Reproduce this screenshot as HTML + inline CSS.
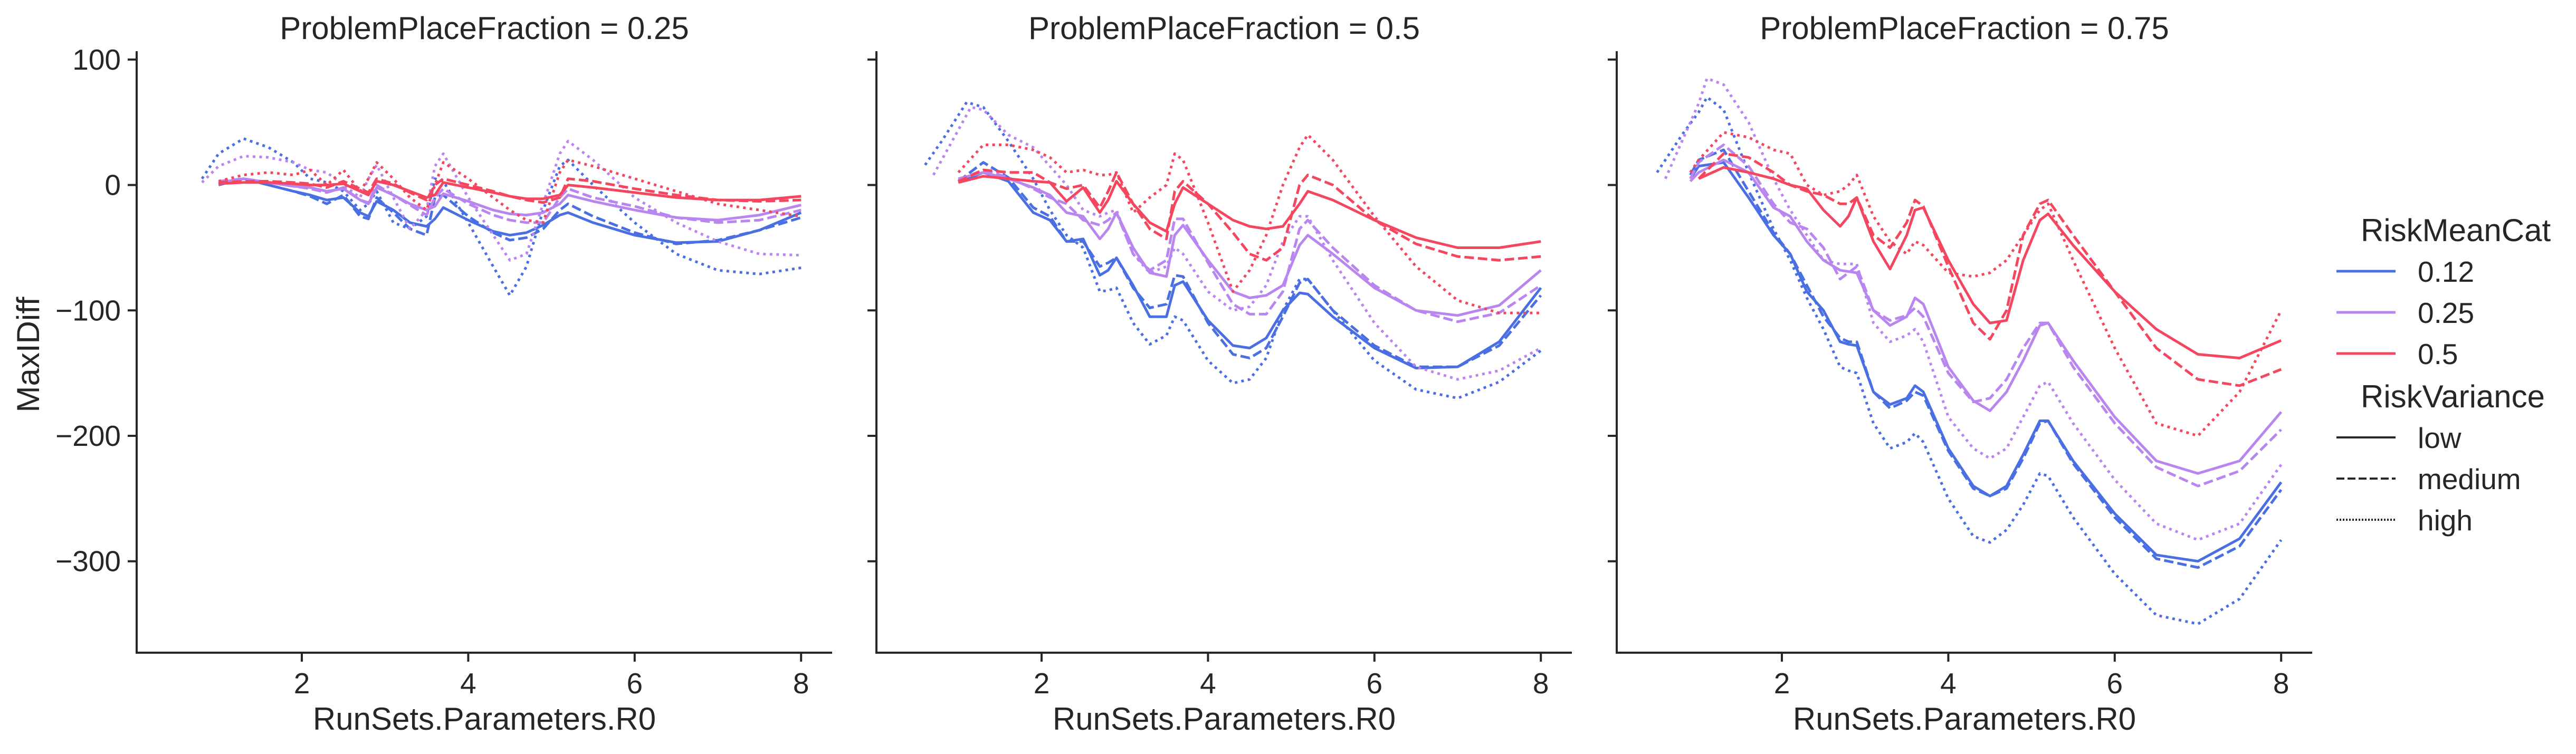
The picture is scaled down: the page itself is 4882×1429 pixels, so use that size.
<!DOCTYPE html>
<html><head><meta charset="utf-8"><style>
body{margin:0;background:#fff;}
svg text{font-family:"Liberation Sans",Arial,sans-serif;fill:#262626;}
</style></head><body>
<svg id="chart" width="4882" height="1424" viewBox="0 0 4882 1424" xmlns="http://www.w3.org/2000/svg">
<g id="root"></g>
</svg>
<script>
const XG = [1.0,1.3,1.6,1.9,2.1,2.3,2.5,2.7,2.8,2.9,3.1,3.3,3.5,3.6,3.7,4.0,4.3,4.5,4.7,4.9,5.1,5.2,5.5,6.0,6.5,7.0,7.5,8.0];
const panelTitles = ["ProblemPlaceFraction = 0.25","ProblemPlaceFraction = 0.5","ProblemPlaceFraction = 0.75"];
const meanCats = ["0.12","0.25","0.5"];
const variances = ["low","medium","high"];
const xTicks = [2,4,6,8];
const yTicks = [100,0,-100,-200,-300];
const yTickLabels = ["100","0","\u2212100","\u2212200","\u2212300"];

// panel 1 (0.25)
const p1_b_low = [0,5,0,-5,-8,-12,-10,-22,-25,-13,-20,-30,-33,-27,-18,-28,-37,-40,-38,-32,-24,-22,-30,-40,-46,-45,-36,-22];
const p1_b_med = [1,5,0,-5,-9,-15,-8,-25,-27,-10,-22,-35,-40,-10,-8,-25,-38,-44,-42,-35,-20,-15,-25,-38,-47,-44,-36,-26];
const p1_b_high_pre_x = [0.8], p1_b_high_pre_y = [5];
const p1_b_high = [25,37,30,18,5,2,-5,-20,-15,-5,-30,-35,-25,5,3,-30,-65,-88,-65,-20,15,20,0,-30,-55,-68,-71,-66];
const p1_p_low = [2,5,2,-1,-2,-5,-3,-12,-15,-2,-8,-15,-20,-17,-7,-13,-20,-23,-24,-22,-15,-8,-13,-20,-26,-28,-24,-16];
const p1_p_med = [3,5,2,-1,-3,-6,-2,-12,-14,0,-8,-16,-24,-10,-3,-15,-24,-28,-30,-30,-10,-3,-10,-17,-26,-30,-28,-20];
const p1_p_high_pre_x = [0.8], p1_p_high_pre_y = [2];
const p1_p_high = [15,23,22,18,12,10,0,-10,5,16,-10,-35,-20,15,25,-10,-40,-60,-55,-15,25,35,20,-10,-30,-45,-55,-56];
const p1_r_low = [1,2,2,1,0,0,1,-5,-8,3,0,-5,-10,-8,2,-2,-6,-9,-11,-11,-8,0,-2,-6,-10,-12,-12,-9];
const p1_r_med = [2,3,3,2,1,-2,3,-3,-6,5,1,-6,-12,0,5,0,-5,-9,-12,-14,-10,5,3,-3,-8,-12,-13,-12];
const p1_r_high = [3,8,10,8,12,0,12,-5,5,18,5,-10,-20,0,18,5,-10,-20,-28,-30,10,20,15,5,-5,-15,-20,-25];

// panel 2 (0.5)
const p2_b_low = [2,10,3,-22,-28,-45,-43,-72,-68,-58,-80,-105,-105,-80,-77,-108,-128,-130,-122,-100,-86,-87,-105,-130,-146,-145,-125,-82];
const p2_b_med = [3,18,6,-18,-25,-45,-45,-65,-62,-58,-82,-98,-95,-72,-73,-110,-135,-138,-130,-105,-78,-75,-100,-128,-145,-145,-128,-88];
const p2_b_high_pre_x = [0.6,0.8,1.1], p2_b_high_pre_y = [16,35,66];
const p2_b_high = [null,62,35,5,-20,-40,-50,-85,-84,-82,-110,-127,-120,-105,-108,-140,-158,-155,-138,-100,-75,-75,-100,-140,-163,-170,-157,-132];
const p2_p_low = [5,10,5,-2,-8,-22,-25,-43,-35,-22,-50,-70,-73,-40,-32,-60,-85,-90,-88,-80,-48,-40,-55,-82,-100,-104,-96,-68];
const p2_p_med = [4,12,6,-3,-10,-15,-28,-32,-28,-22,-55,-68,-60,-27,-27,-62,-95,-103,-103,-85,-35,-28,-50,-80,-100,-109,-102,-80];
const p2_p_high_pre_x = [0.7,1.15], p2_p_high_pre_y = [8,62];
const p2_p_high = [null,60,40,30,15,0,-20,-25,-22,-20,-55,-70,-65,-50,-55,-85,-100,-97,-80,-45,-25,-25,-60,-110,-145,-155,-148,-130];
const p2_r_low = [2,7,5,3,2,-13,-2,-22,-12,3,-15,-30,-37,-15,-2,-15,-28,-33,-35,-33,-15,-5,-12,-28,-42,-50,-50,-45];
const p2_r_med = [3,12,10,10,2,-3,0,-18,-5,10,-15,-35,-43,-5,3,-15,-38,-55,-60,-50,0,8,0,-28,-47,-57,-60,-57];
const p2_r_high = [10,32,32,28,22,10,12,8,8,10,-22,-10,0,25,20,-30,-85,-68,-40,0,30,40,20,-25,-65,-92,-102,-102];

// panel 3 (0.75)
const p3_b_low_pre_x = [0.9], p3_b_low_pre_y = [5];
const p3_b_low = [15,18,-10,-40,-55,-85,-100,-125,-127,-128,-165,-175,-170,-160,-165,-210,-240,-248,-240,-215,-188,-188,-220,-262,-295,-300,-282,-237];
const p3_b_med_pre_x = [0.9], p3_b_med_pre_y = [8];
const p3_b_med = [20,28,-5,-38,-55,-80,-105,-122,-125,-125,-165,-178,-172,-165,-168,-212,-242,-248,-242,-218,-190,-188,-222,-265,-298,-305,-288,-243];
const p3_b_high_pre_x = [0.5,0.8,1.1], p3_b_high_pre_y = [10,40,70];
const p3_b_high = [58,60,10,-35,-60,-90,-115,-145,-148,-150,-190,-210,-205,-198,-205,-250,-280,-285,-275,-255,-230,-232,-265,-310,-343,-350,-330,-283];
const p3_p_low_pre_x = [0.9], p3_p_low_pre_y = [3];
const p3_p_low = [10,20,10,-18,-25,-45,-60,-68,-69,-70,-100,-112,-105,-90,-95,-145,-172,-180,-165,-140,-112,-110,-140,-185,-220,-230,-220,-181];
const p3_p_med_pre_x = [0.9], p3_p_med_pre_y = [5];
const p3_p_med = [18,32,15,-15,-30,-35,-50,-75,-70,-65,-100,-108,-104,-98,-105,-150,-173,-170,-155,-130,-110,-110,-145,-190,-225,-240,-228,-195];
const p3_p_high_pre_x = [0.6,0.8,1.1], p3_p_high_pre_y = [5,35,85];
const p3_p_high = [65,80,50,5,-20,-40,-60,-63,-63,-63,-110,-125,-120,-115,-125,-185,-210,-218,-210,-185,-160,-157,-190,-235,-270,-283,-270,-223];
const p3_r_low = [5,14,10,5,0,-3,-20,-33,-25,-10,-45,-67,-40,-20,-18,-60,-95,-110,-108,-60,-28,-23,-48,-85,-115,-135,-138,-124];
const p3_r_med = [5,25,22,10,0,-5,-8,-15,-15,-10,-40,-50,-30,-12,-17,-65,-110,-123,-100,-40,-15,-12,-40,-85,-130,-155,-160,-147];
const p3_r_high_pre_x = [0.9], p3_r_high_pre_y = [10];
const p3_r_high = [20,42,38,28,25,0,-8,-5,0,8,-25,-45,-55,-45,-48,-70,-73,-70,-60,-40,-20,-15,-60,-130,-190,-200,-165,-100];

const E = [];
const panels = [
 [[p1_b_low,E,E],[p1_b_med,E,E],[p1_b_high,p1_b_high_pre_x,p1_b_high_pre_y],
  [p1_p_low,E,E],[p1_p_med,E,E],[p1_p_high,p1_p_high_pre_x,p1_p_high_pre_y],
  [p1_r_low,E,E],[p1_r_med,E,E],[p1_r_high,E,E]],
 [[p2_b_low,E,E],[p2_b_med,E,E],[p2_b_high,p2_b_high_pre_x,p2_b_high_pre_y],
  [p2_p_low,E,E],[p2_p_med,E,E],[p2_p_high,p2_p_high_pre_x,p2_p_high_pre_y],
  [p2_r_low,E,E],[p2_r_med,E,E],[p2_r_high,E,E]],
 [[p3_b_low,p3_b_low_pre_x,p3_b_low_pre_y],[p3_b_med,p3_b_med_pre_x,p3_b_med_pre_y],[p3_b_high,p3_b_high_pre_x,p3_b_high_pre_y],
  [p3_p_low,p3_p_low_pre_x,p3_p_low_pre_y],[p3_p_med,p3_p_med_pre_x,p3_p_med_pre_y],[p3_p_high,p3_p_high_pre_x,p3_p_high_pre_y],
  [p3_r_low,E,E],[p3_r_med,E,E],[p3_r_high,p3_r_high_pre_x,p3_r_high_pre_y]]
];

const colors = ["#4A6FE3","#B986EF","#F4475F"];
const dashes = ["", "18 7.5", "5 7.5"];
const NS = "http://www.w3.org/2000/svg";
const root = document.getElementById("root");
const panelLeft = [259, 1661, 3064];
const xUnit = 157.7, x2Off = 313, axisW = 1318;
const y0 = 350.6, yUnit = 2.377, yTop = 97, yBot = 1237;
function mk(tag, attrs, parent){const e=document.createElementNS(NS,tag);for(const k in attrs)e.setAttribute(k,attrs[k]);(parent||root).appendChild(e);return e;}
function xs(p,v){return panelLeft[p]+x2Off+(v-2)*xUnit;}
function ys(v){return y0-v*yUnit;}

panels.forEach((series,p)=>{
  const L = panelLeft[p];
  const g = mk("g",{});
  
  
  const t = mk("text",{x:L+axisW/2,y:74,"font-size":60,"text-anchor":"middle"},g);
  t.textContent = panelTitles[p];
  
  
  const ya = mk("line",{x1:L,y1:yTop,x2:L,y2:yBot,stroke:"#262626","stroke-width":4},g);
  
  
  const xa = mk("line",{x1:L-2,y1:yBot,x2:L+axisW,y2:yBot,stroke:"#262626","stroke-width":4},g);
  
  
  yTicks.forEach((v,i)=>{
    mk("line",{x1:L-17,y1:ys(v),x2:L,y2:ys(v),stroke:"#262626","stroke-width":4},g);
    if(p===0){
      const tl = mk("text",{x:L-30,y:ys(v)+19,"font-size":55,"text-anchor":"end"},g);
      tl.textContent = yTickLabels[i];
      
      
    }
  });
  xTicks.forEach(v=>{
    mk("line",{x1:xs(p,v),y1:yBot,x2:xs(p,v),y2:yBot+17,stroke:"#262626","stroke-width":4},g);
    const tl = mk("text",{x:xs(p,v),y:1314,"font-size":55,"text-anchor":"middle"},g);
    tl.textContent = String(v);
    
    
  });
  const xl = mk("text",{x:L+axisW/2,y:1383,"font-size":60,"text-anchor":"middle"},g);
  xl.textContent = "RunSets.Parameters.R0";
  
  
  series.forEach((s,si)=>{
    const [vals,px,py] = s;
    const pts = [];
    px.forEach((x,i)=>pts.push([x,py[i]]));
    XG.forEach((x,i)=>{ if(vals[i]!==null) pts.push([x,vals[i]]); });
    pts.sort((a,b)=>a[0]-b[0]);
    const d = pts.map((q,i)=>(i?"L":"M")+xs(p,q[0]).toFixed(1)+" "+ys(q[1]).toFixed(1)).join(" ");
    const ci = Math.floor(si/3), vi = si%3;
    const path = mk("path",{d:d,fill:"none",stroke:colors[ci],"stroke-width":5,"stroke-linejoin":"round"},g);
    if(dashes[vi]) path.setAttribute("stroke-dasharray",dashes[vi]);
    
    
  });
});
const yl = mk("text",{x:0,y:0,"font-size":60,"text-anchor":"middle",transform:"translate(74,672) rotate(-90)"});
yl.textContent = "MaxIDiff";



const lg = mk("g",{});


const h1 = mk("text",{x:4474,y:457,"font-size":60},lg);
h1.textContent = "RiskMeanCat";


const legY1 = [514,592,670];
meanCats.forEach((c,i)=>{
  const ln = mk("line",{x1:4428,y1:legY1[i],x2:4540,y2:legY1[i],stroke:colors[i],"stroke-width":5},lg);
  
  
  const tx = mk("text",{x:4582,y:legY1[i]+20,"font-size":55},lg);
  tx.textContent = c;
  
  
});
const h2 = mk("text",{x:4474,y:772,"font-size":60},lg);
h2.textContent = "RiskVariance";


const legY2 = [829,907,985];
variances.forEach((v,i)=>{
  const ln = mk("line",{x1:4428,y1:legY2[i],x2:4540,y2:legY2[i],stroke:"#262626","stroke-width":4},lg);
  if(dashes[i]) ln.setAttribute("stroke-dasharray", i===1?"15 6":"3 3");
  
  
  const tx = mk("text",{x:4582,y:legY2[i]+20,"font-size":55},lg);
  tx.textContent = v;
  
  
});
</script>
</body></html>
